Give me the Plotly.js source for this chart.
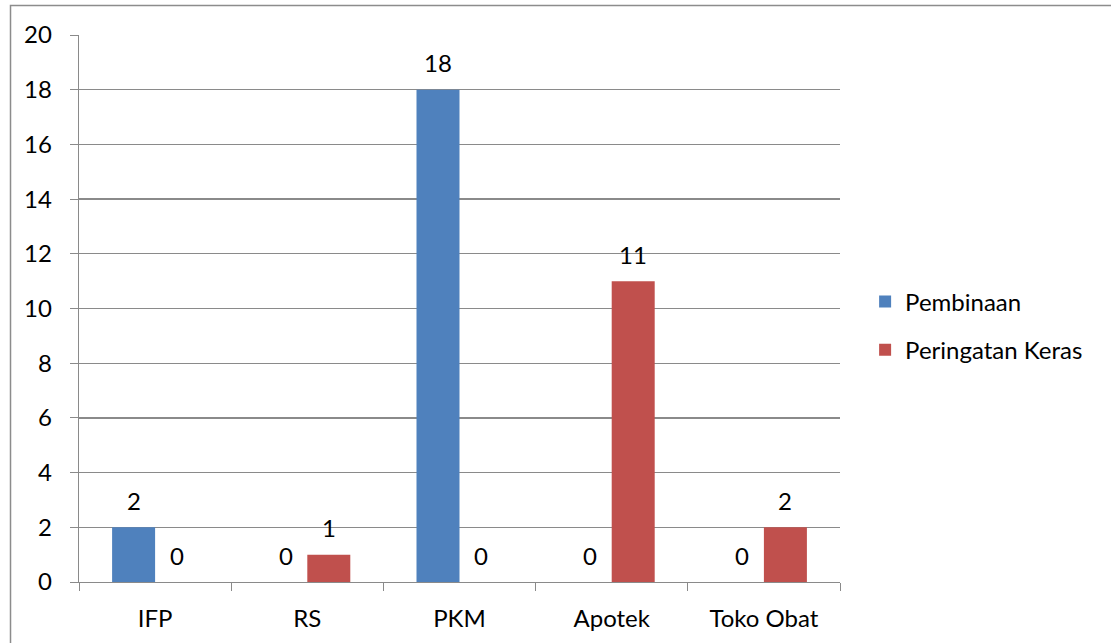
<!DOCTYPE html>
<html>
<head>
<meta charset="utf-8">
<script src="https://cdn.plot.ly/plotly-3.0.1.min.js"></script>
<style>
html,body{margin:0;padding:0;background:#fff;}
#chart{width:1111px;height:643px;}
</style>
</head>
<body>
<div id="chart"></div>
<script>
const categories = ["IFP", "RS", "PKM", "Apotek", "Toko Obat"];
const pembinaan = [2, 0, 18, 0, 0];
const peringatanKeras = [0, 1, 0, 11, 2];
const seriesNames = ["Pembinaan", "Peringatan Keras"];
const yTicks = [0, 2, 4, 6, 8, 10, 12, 14, 16, 18, 20];

const FONT = "Lato, 'Open Sans', sans-serif";
const FS = 24;
const BLUE = "#4F81BD", RED = "#C0504D", GRID = "#8a8a8a";

const traces = [
  {type: "bar", name: seriesNames[0], x: categories, y: pembinaan,
   marker: {color: BLUE}, legendgroup: "a"},
  {type: "bar", name: seriesNames[1], x: categories, y: peringatanKeras,
   marker: {color: RED}, legendgroup: "b"}
];

const annotations = [];
categories.forEach((c, i) => {
  annotations.push({x: c, y: pembinaan[i], xref: "x", yref: "y", text: String(pembinaan[i]),
    showarrow: false, xshift: -21.5, yshift: 27, font: {family: FONT, size: FS, color: "#000"}});
  annotations.push({x: c, y: peringatanKeras[i], xref: "x", yref: "y", text: String(peringatanKeras[i]),
    showarrow: false, xshift: 21.5, yshift: 27, font: {family: FONT, size: FS, color: "#000"}});
});

const layout = {
  width: 1111, height: 643,
  margin: {l: 79, r: 271, t: 35, b: 61},
  paper_bgcolor: "#fff", plot_bgcolor: "#fff",
  barmode: "group", bargap: 0.435, bargroupgap: 0,
  font: {family: FONT, size: FS, color: "#000"},
  xaxis: {
    type: "category", tickson: "boundaries", ticks: "outside", ticklen: 8,
    tickcolor: GRID, showline: true, linecolor: GRID, linewidth: 1.3,
    showgrid: false, tickfont: {family: FONT, size: FS}, ticklabelstandoff: 15
  },
  yaxis: {
    range: [0, 20], tickvals: yTicks, ticks: "outside", ticklen: 8, tickcolor: GRID,
    showline: true, linecolor: GRID, linewidth: 1.3, showgrid: true, gridcolor: GRID,
    gridwidth: 1.3, zeroline: false, tickfont: {family: FONT, size: FS}, ticklabelstandoff: 13
  },
  showlegend: true,
  legend: {x: 1.033, y: 0.468, yanchor: "middle", xanchor: "left",
    font: {family: FONT, size: FS}, tracegroupgap: 14, traceorder: "grouped",
    itemwidth: 30, bgcolor: "rgba(0,0,0,0)"},
  annotations: annotations,
  shapes: [
    {type: "rect", xref: "paper", yref: "paper", x0: -0.09, x1: 1.6, y0: -0.3, y1: 1.0539,
     line: {color: "#8c8c8c", width: 1.5}, fillcolor: "rgba(0,0,0,0)", layer: "below"}
  ]
};

Plotly.newPlot("chart", traces, layout, {displayModeBar: false, staticPlot: true});
</script>
</body>
</html>
